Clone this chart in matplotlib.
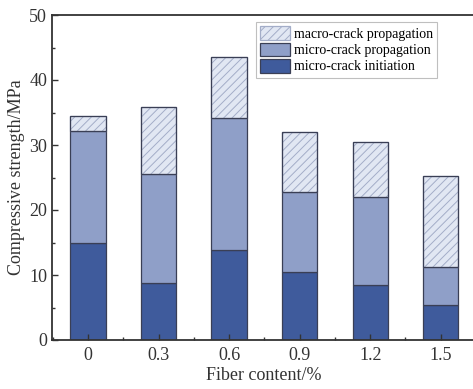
import numpy as np
import matplotlib.pyplot as plt
from matplotlib.ticker import MultipleLocator

plt.rcParams['font.family'] = ['Liberation Serif', 'DejaVu Serif']
plt.rcParams['hatch.linewidth'] = 0.7

fiber = ["0", "0.3", "0.6", "0.9", "1.2", "1.5"]
initiation = [14.9, 8.8, 13.8, 10.4, 8.5, 5.4]
micro_prop = [17.3, 16.8, 20.4, 12.3, 13.5, 5.9]
macro_prop = [2.3, 10.3, 9.4, 9.3, 8.4, 13.9]

x = np.arange(len(fiber))
init = np.array(initiation)
micro = np.array(micro_prop)
macro = np.array(macro_prop)

fig = plt.figure(figsize=(4.73, 3.89), dpi=100)
ax = fig.add_axes([52/473, 49/389, 424/473, 325/389])

edge = "#3a3f55"
ax.bar(x, init, 0.5, color="#3f5b9c", edgecolor=edge, linewidth=0.9,
       label="micro-crack initiation")
ax.bar(x, micro, 0.5, bottom=init, color="#8f9fc8", edgecolor=edge,
       linewidth=0.9, label="micro-crack propagation")
ax.bar(x, macro, 0.5, bottom=init + micro, color="#e1e7f3", edgecolor="#a3adc8",
       hatch="////", linewidth=0.9, label="macro-crack propagation")
# redraw outline of the top segment in dark
ax.bar(x, macro, 0.5, bottom=init + micro, color="none", edgecolor=edge,
       linewidth=0.9)

ax.set_xlim(-0.51, 5.5)
ax.set_ylim(0, 50)
ax.set_xticks(x)
ax.set_xticklabels(fiber)
ax.xaxis.set_minor_locator(MultipleLocator(0.5))
ax.yaxis.set_major_locator(MultipleLocator(10))
ax.yaxis.set_minor_locator(MultipleLocator(5))
ax.tick_params(which="both", direction="in", labelsize=13, colors="#333333")
ax.tick_params(which="major", length=4, width=1)
ax.tick_params(which="minor", length=2.5, width=1)
ax.tick_params(axis="x", pad=5)
for s in ax.spines.values():
    s.set_linewidth(1.3)
    s.set_color("#333333")

ax.set_xlabel("Fiber content/%", fontsize=13, color="#333333", labelpad=2)
ax.set_ylabel("Compressive strength/MPa", fontsize=13, color="#333333", labelpad=3)

h, l = ax.get_legend_handles_labels()
leg = ax.legend(h[::-1], l[::-1], loc="upper right", bbox_to_anchor=(0.908, 0.978),
                fontsize=10, frameon=True, fancybox=False, edgecolor="#b0b0b0",
                handlelength=2.2, handleheight=1.15, handletextpad=0.25,
                labelspacing=0.12, borderpad=0.3, borderaxespad=0)
leg.get_frame().set_linewidth(0.8)

fig.savefig("out.png", dpi=100)
